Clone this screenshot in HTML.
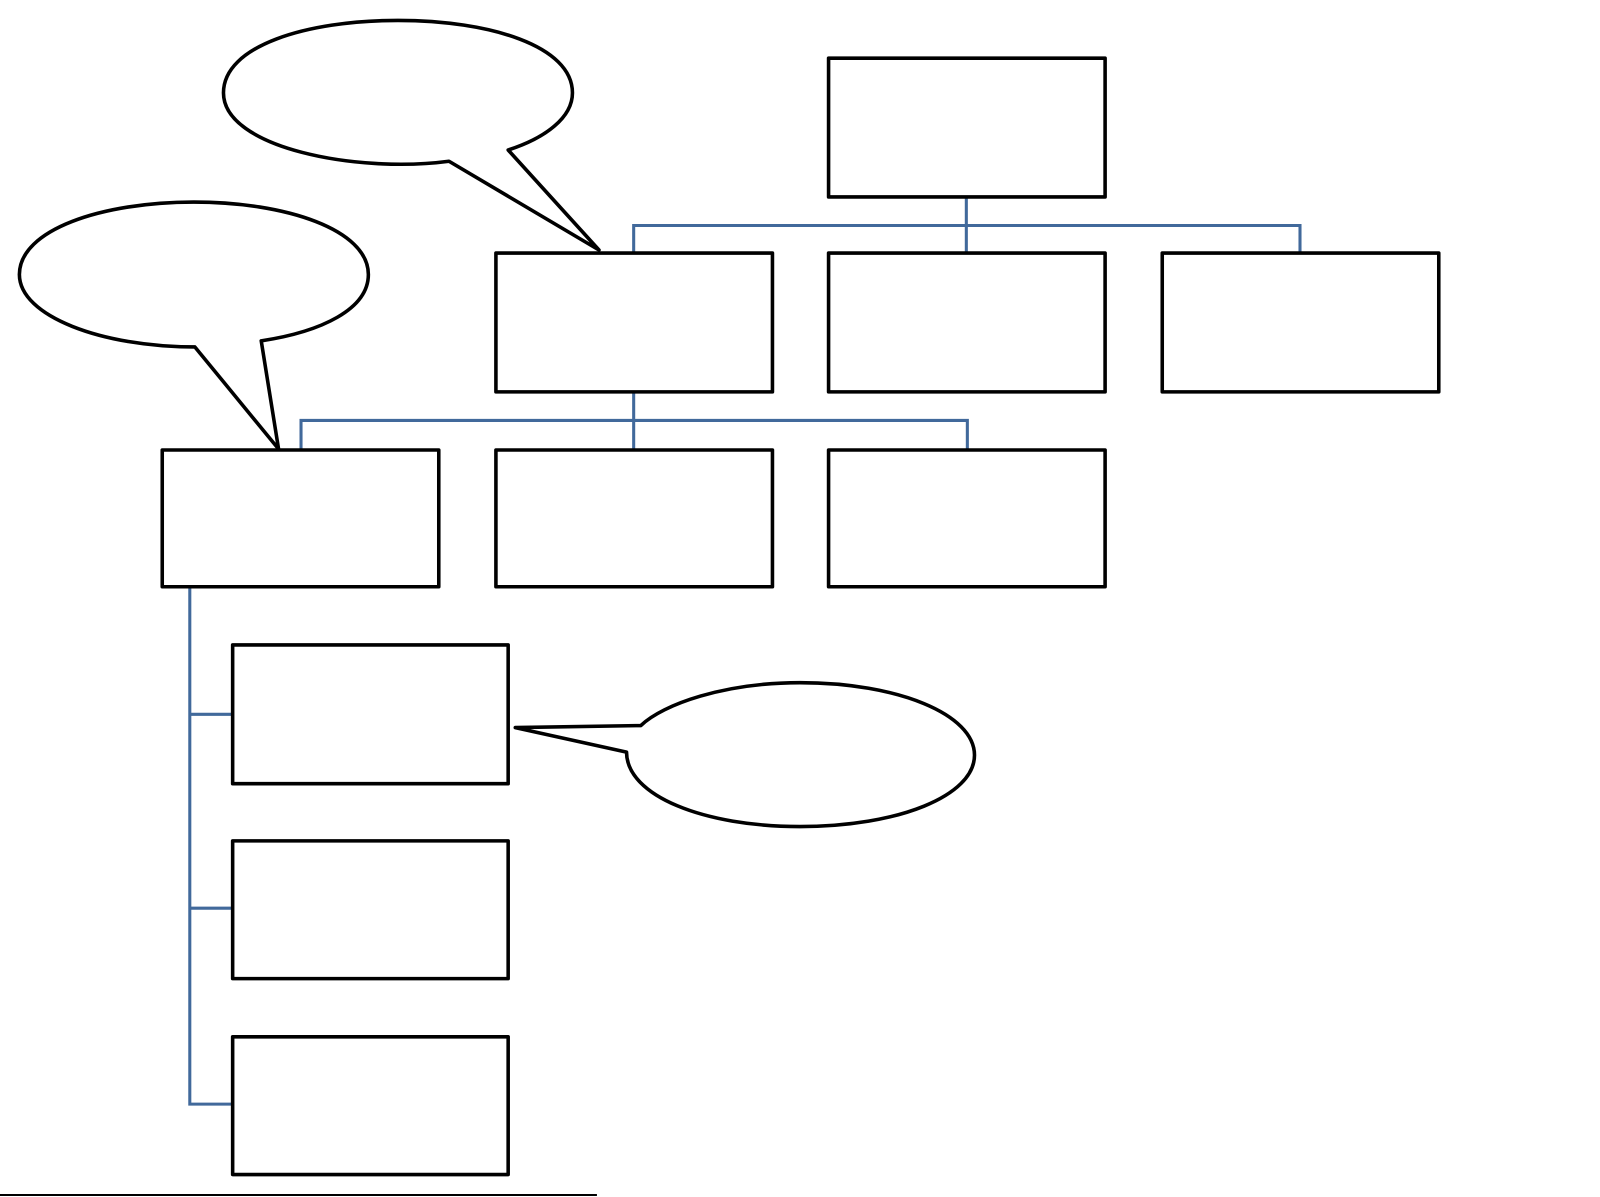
<!DOCTYPE html>
<html><head><style>html,body{margin:0;padding:0;background:#fff;width:1600px;height:1197px;overflow:hidden}</style></head>
<body>
<svg width="1600" height="1197" viewBox="0 0 1568 1173" preserveAspectRatio="none" xmlns="http://www.w3.org/2000/svg">
<g fill="none" stroke="#41699b" stroke-width="3">
<path d="M947 193 V248 M621 248 V221 H1274 V248"/>
<path d="M621 384 V441 M295 441 V412 H948 V441"/>
<path d="M186 575 V1082 H228 M186 700 H228 M186 890 H228"/>
</g>
<g fill="#fff" stroke="#000" stroke-width="3.5" stroke-linejoin="round">
<rect x="812" y="57" width="271" height="136"/>
<rect x="486" y="248" width="271" height="136"/>
<rect x="812" y="248" width="271" height="136"/>
<rect x="1139" y="248" width="271" height="136"/>
<rect x="159" y="441" width="271" height="134"/>
<rect x="486" y="441" width="271" height="134"/>
<rect x="812" y="441" width="271" height="134"/>
<rect x="228" y="632" width="270" height="136"/>
<rect x="228" y="824" width="270" height="135"/>
<rect x="228" y="1016" width="270" height="135"/>
<path d="M440 158 C350 170 219 145 219 91 C219 45 300 20 390 20 C480 20 561 45 561 91 C561 115 535 135 498 147 L587 245 Z"/>
<path d="M191 340 C100 340 19 310 19 269 C19 225 100 198 190 198 C280 198 361 225 361 269 C361 303 315 325 256 334 L273 440 Z"/>
<path d="M628 711 C650 690 710 669 784 669 C880 669 955 700 955 740 C955 780 880 810 784 810 C690 810 614 780 614 737 L505 713 Z"/>
</g>
<line x1="0" y1="1171" x2="585" y2="1171" stroke="#000" stroke-width="2"/>
</svg>
</body></html>
